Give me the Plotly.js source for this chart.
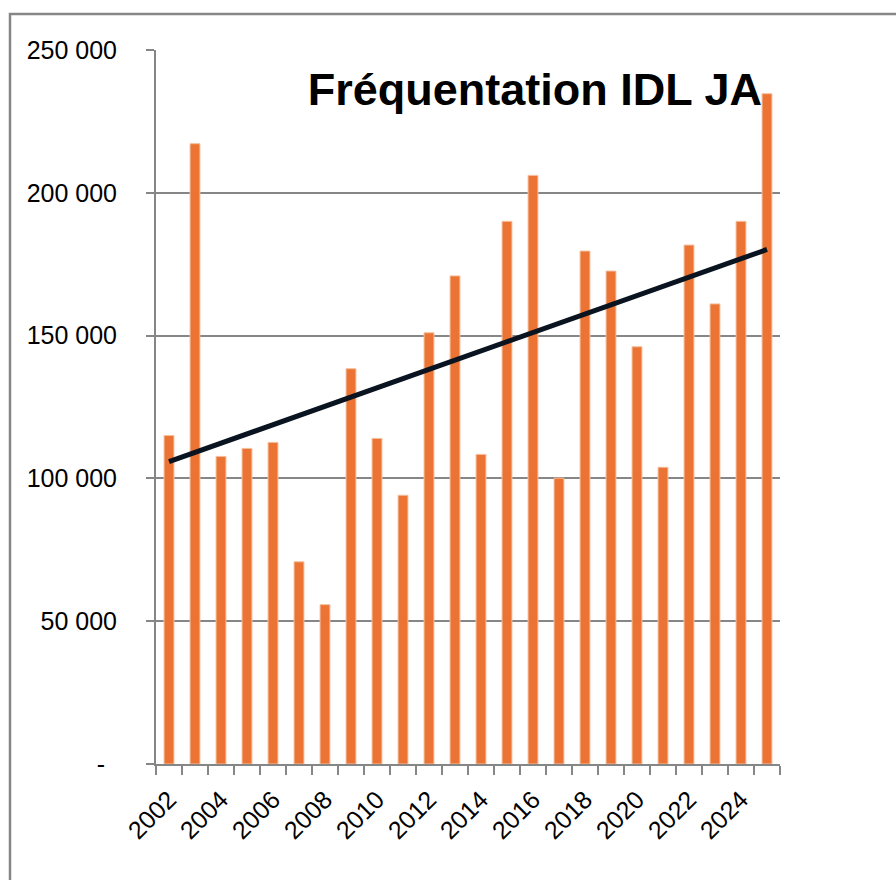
<!DOCTYPE html>
<html>
<head>
<meta charset="utf-8">
<script src="https://cdn.plot.ly/plotly-3.0.1.min.js"></script>
<style>
  html, body { margin: 0; padding: 0; background: #fff; }
  #chart { width: 896px; height: 880px; }
</style>
</head>
<body>
<div id="chart"></div>
<script>
// Data
const years = [2002, 2003, 2004, 2005, 2006, 2007, 2008, 2009, 2010, 2011, 2012, 2013,
               2014, 2015, 2016, 2017, 2018, 2019, 2020, 2021, 2022, 2023, 2024, 2025];
const visitors = [115000, 217200, 107700, 110500, 112600, 70800, 55800, 138400, 114000, 94100, 151000, 170900,
                  108400, 190000, 206100, 100100, 179600, 172600, 146100, 103900, 181700, 161100, 190000, 234700];
const xTickYears = [2002, 2004, 2006, 2008, 2010, 2012, 2014, 2016, 2018, 2020, 2022, 2024];
const yTickVals = [0, 50000, 100000, 150000, 200000, 250000];
const yTickText = ["-\u2009\u00a0", "50 000", "100 000", "150 000", "200 000", "250 000"];
const chartTitle = "Fréquentation IDL JA";

// Linear trend line (least squares) derived from the series
const n = years.length;
const mx = years.reduce((a, b) => a + b, 0) / n;
const my = visitors.reduce((a, b) => a + b, 0) / n;
let sxy = 0, sxx = 0;
for (let i = 0; i < n; i++) { sxy += (years[i] - mx) * (visitors[i] - my); sxx += (years[i] - mx) ** 2; }
const slope = sxy / sxx, icpt = my - slope * mx;
const trendX = [years[0], years[n - 1]];
const trendY = trendX.map(x => icpt + slope * x);

const grey = '#868686';
const font = 'Liberation Sans, Arial, sans-serif';

const L = 156, R = 116, T = 50, B = 116;
const W = 896, H = 880;
const pw = W - L - R, ph = H - T - B;

const data = [
  {
    type: 'bar', x: years, y: visitors, width: 0.38,
    marker: { color: '#EB7434', line: { color: '#F6BE9C', width: 1 } },
    hoverinfo: 'x+y'
  },
  {
    type: 'scatter', mode: 'lines', x: trendX, y: trendY,
    line: { color: '#0a1420', width: 5 }, hoverinfo: 'skip'
  }
];

const layout = {
  width: W, height: H,
  margin: { l: L, r: R, t: T, b: B, pad: 0 },
  paper_bgcolor: '#fff', plot_bgcolor: '#fff',
  showlegend: false,
  font: { family: font, color: '#000', size: 25 },
  title: {
    text: '<b>' + chartTitle + '</b>',
    font: { family: font, size: 45, color: '#000' },
    xref: 'paper', x: (762 - L) / pw, xanchor: 'right',
    yref: 'container', y: 1 - 89 / H, yanchor: 'middle'
  },
  xaxis: {
    type: 'linear', range: [2001.5, 2025.5],
    tickmode: 'array', tickvals: xTickYears, ticktext: xTickYears.map(String),
    tickangle: -45, ticks: '', ticklabelstandoff: 9,
    tickfont: { family: font, size: 25, color: '#000' },
    showgrid: false, zeroline: false,
    showline: true, linecolor: grey, linewidth: 2,
    minor: { tick0: 2001.5, dtick: 1, ticks: 'outside', ticklen: 9, tickwidth: 2, tickcolor: grey, showgrid: false },
    fixedrange: true
  },
  yaxis: {
    range: [0, 250000],
    tickmode: 'array', tickvals: yTickVals, ticktext: yTickText,
    ticks: 'outside', ticklen: 8, tickwidth: 2, tickcolor: grey,
    ticklabelstandoff: 24,
    tickfont: { family: font, size: 25, color: '#000' },
    showgrid: true, gridcolor: grey, gridwidth: 2,
    zeroline: false,
    showline: true, linecolor: grey, linewidth: 2,
    fixedrange: true
  },
  shapes: [
    {
      type: 'rect', xref: 'paper', yref: 'paper',
      x0: (10 - L) / pw, x1: (905 - L) / pw,
      y0: (H - B - 890) / ph, y1: (H - B - 14) / ph,
      line: { color: grey, width: 2.5 }, fillcolor: 'rgba(0,0,0,0)', layer: 'below'
    }
  ]
};

Plotly.newPlot('chart', data, layout, { displayModeBar: false, staticPlot: true });
</script>
</body>
</html>
